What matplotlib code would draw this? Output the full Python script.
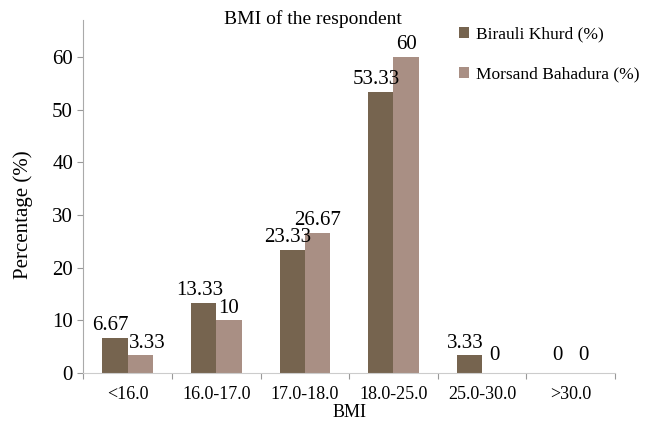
import numpy as np
import matplotlib
matplotlib.use("Agg")
import matplotlib.pyplot as plt

categories = ["<16.0", "16.0-17.0", "17.0-18.0", "18.0-25.0", "25.0-30.0", ">30.0"]
birauli = [6.67, 13.33, 23.33, 53.33, 3.33, 0]
morsand = [3.33, 10, 26.67, 60, 0, 0]
birauli_labels = ["6.67", "13.33", "23.33", "53.33", "3.33", "0"]
morsand_labels = ["3.33", "10", "26.67", "60", "0", "0"]

plt.rcParams['font.family'] = ['Liberation Serif', 'DejaVu Serif']

fig = plt.figure(figsize=(6.52, 4.21), dpi=100)
ax = fig.add_axes([0.128, 0.114, 0.815, 0.838])

x = np.arange(len(categories))
w = 0.285
c1 = "#76644f"
c2 = "#a98f84"
b1 = ax.bar(x - w / 2, birauli, w, color=c1, label="Birauli Khurd (%)")
b2 = ax.bar(x + w / 2, morsand, w, color=c2, label="Morsand Bahadura (%)")

# value labels
for xi, v, s in zip(x, birauli, birauli_labels):
    dx = -0.05 if v > 0 else 0
    ax.annotate(s, (xi - w / 2 + dx, v), xytext=(0, 2 if v > 0 else 6),
                textcoords="offset points", ha="center", va="bottom", fontsize=15)
for xi, v, s in zip(x, morsand, morsand_labels):
    dx = 0.08 if (v > 0 and v < 5) else 0
    ax.annotate(s, (xi + w / 2 + dx, v), xytext=(0, 2 if v > 0 else 6),
                textcoords="offset points", ha="center", va="bottom", fontsize=15)

ax.set_xlim(-0.5, len(categories) - 0.5)
ax.set_ylim(0, 67)
ax.set_yticks(range(0, 61, 10))
ax.set_xticks(np.arange(len(categories) + 1) - 0.5, minor=False)
ax.set_xticklabels([])
ax.set_xticks(x, minor=True)
ax.set_xticklabels(categories, minor=True, fontsize=13)
ax.tick_params(axis="x", which="minor", length=0, pad=9)
ax.tick_params(axis="x", which="major", length=4, color="#999999", direction="out")
ax.tick_params(axis="y", labelsize=15, length=4, color="#999999")

for sp in ["top", "right"]:
    ax.spines[sp].set_visible(False)
ax.spines["left"].set_color("#aaaaaa")
ax.spines["bottom"].set_color("#cccccc")

ax.set_ylabel("Percentage (%)", fontsize=15, labelpad=10)
ax.yaxis.set_label_coords(-0.095, 0.45)
ax.set_xlabel("BMI", fontsize=13, labelpad=1)
fig.text(0.48, 0.955, "BMI of the respondent", ha="center", va="center", fontsize=14)

fig.legend(handles=[b1, b2], loc="upper left", bbox_to_anchor=(0.68, 0.975),
           frameon=False, fontsize=12.5, handlelength=0.6, handleheight=0.6,
           handletextpad=0.4, labelspacing=1.4)

fig.savefig("out.png", dpi=100)
